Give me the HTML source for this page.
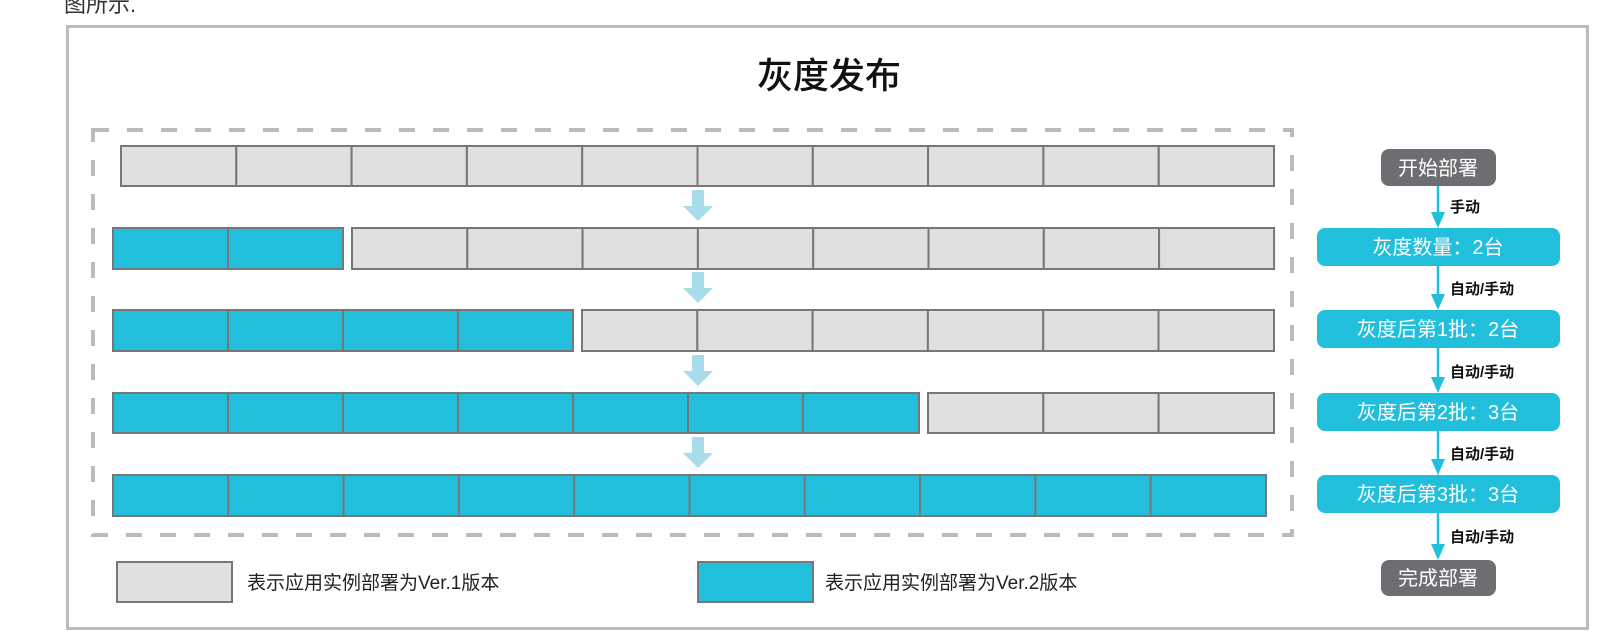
<!DOCTYPE html>
<html><head><meta charset="utf-8"><style>
html,body{margin:0;padding:0;background:#fff;}
svg{display:block;font-family:"Liberation Sans","Noto Sans CJK SC",sans-serif;}
</style></head><body>
<svg width="1612" height="644" viewBox="0 0 1612 644" xmlns="http://www.w3.org/2000/svg">
<text x="64" y="12" font-size="22" fill="#333">图所示.</text>
<rect x="67.5" y="26.5" width="1520" height="602" fill="#fff" stroke="#bbb" stroke-width="3"/>
<text x="829" y="88" font-size="36" font-weight="500" text-anchor="middle" fill="#111">灰度发布</text>
<rect x="93" y="130" width="1199" height="405" fill="none" stroke="#bbb" stroke-width="4" stroke-dasharray="16,18"/>
<g stroke="#777" stroke-width="2">
<g fill="#e0e0e0">
<rect x="121" y="146" width="115.3" height="40"/><rect x="236.3" y="146" width="115.3" height="40"/><rect x="351.6" y="146" width="115.3" height="40"/><rect x="466.9" y="146" width="115.3" height="40"/><rect x="582.2" y="146" width="115.3" height="40"/><rect x="697.5" y="146" width="115.3" height="40"/><rect x="812.8" y="146" width="115.3" height="40"/><rect x="928.1" y="146" width="115.3" height="40"/><rect x="1043.4" y="146" width="115.3" height="40"/><rect x="1158.7" y="146" width="115.3" height="40"/>
</g>
<g fill="#22bfdd"><rect x="113" y="228" width="115" height="41"/><rect x="228" y="228" width="115" height="41"/></g>
<g fill="#e0e0e0"><rect x="352" y="228" width="115.3" height="41"/><rect x="467.3" y="228" width="115.3" height="41"/><rect x="582.6" y="228" width="115.3" height="41"/><rect x="697.9" y="228" width="115.3" height="41"/><rect x="813.2" y="228" width="115.3" height="41"/><rect x="928.5" y="228" width="115.3" height="41"/><rect x="1043.8" y="228" width="115.3" height="41"/><rect x="1159.1" y="228" width="115" height="41"/></g>
<g fill="#22bfdd"><rect x="113" y="310" width="115" height="41"/><rect x="228" y="310" width="115" height="41"/><rect x="343" y="310" width="115" height="41"/><rect x="458" y="310" width="115" height="41"/></g>
<g fill="#e0e0e0"><rect x="582" y="310" width="115.3" height="41"/><rect x="697.3" y="310" width="115.3" height="41"/><rect x="812.6" y="310" width="115.3" height="41"/><rect x="927.9" y="310" width="115.3" height="41"/><rect x="1043.2" y="310" width="115.3" height="41"/><rect x="1158.5" y="310" width="115.5" height="41"/></g>
<g fill="#22bfdd"><rect x="113" y="393" width="115" height="40"/><rect x="228" y="393" width="115" height="40"/><rect x="343" y="393" width="115" height="40"/><rect x="458" y="393" width="115" height="40"/><rect x="573" y="393" width="115" height="40"/><rect x="688" y="393" width="115" height="40"/><rect x="803" y="393" width="116" height="40"/></g>
<g fill="#e0e0e0"><rect x="928" y="393" width="115.3" height="40"/><rect x="1043.3" y="393" width="115.3" height="40"/><rect x="1158.6" y="393" width="115.4" height="40"/></g>
<g fill="#22bfdd"><rect x="113" y="475" width="115.3" height="41"/><rect x="228.3" y="475" width="115.3" height="41"/><rect x="343.6" y="475" width="115.3" height="41"/><rect x="458.9" y="475" width="115.3" height="41"/><rect x="574.2" y="475" width="115.3" height="41"/><rect x="689.5" y="475" width="115.3" height="41"/><rect x="804.8" y="475" width="115.3" height="41"/><rect x="920.1" y="475" width="115.3" height="41"/><rect x="1035.4" y="475" width="115.3" height="41"/><rect x="1150.7" y="475" width="115.3" height="41"/></g>
<rect x="117" y="562" width="115" height="40" fill="#e0e0e0"/>
<rect x="698" y="562" width="115" height="40" fill="#22bfdd"/>
</g>
<g fill="#a8dcea">
<path d="M692 190h12v16h9l-15 15l-15-15h9z"/>
<path d="M692 272h12v16h9l-15 15l-15-15h9z"/>
<path d="M692 355h12v16h9l-15 15l-15-15h9z"/>
<path d="M692 437h12v16h9l-15 15l-15-15h9z"/>
</g>
<g font-size="19" fill="#222">
<text x="247" y="589">表示应用实例部署为Ver.1版本</text>
<text x="825" y="589">表示应用实例部署为Ver.2版本</text>
</g>
<rect x="1381" y="149" width="115" height="37" rx="8" fill="#6d6e71"/>
<rect x="1317" y="228" width="243" height="38" rx="8" fill="#22bfdd"/>
<rect x="1317" y="310" width="243" height="38" rx="8" fill="#22bfdd"/>
<rect x="1317" y="393" width="243" height="38" rx="8" fill="#22bfdd"/>
<rect x="1317" y="475" width="243" height="38" rx="8" fill="#22bfdd"/>
<rect x="1381" y="560" width="115" height="36" rx="8" fill="#6d6e71"/>
<g stroke="#22bfdd" stroke-width="2.5"><line x1="1438" y1="186" x2="1438" y2="216"/><line x1="1438" y1="266" x2="1438" y2="298"/><line x1="1438" y1="348" x2="1438" y2="381"/><line x1="1438" y1="431" x2="1438" y2="463"/><line x1="1438" y1="513" x2="1438" y2="548"/></g>
<g fill="#22bfdd"><path d="M1431 212h14l-7 16z"/><path d="M1431 294h14l-7 16z"/><path d="M1431 377h14l-7 16z"/><path d="M1431 459h14l-7 16z"/><path d="M1431 544h14l-7 16z"/></g>
<g font-size="20" fill="#fff" text-anchor="middle">
<text x="1438" y="175">开始部署</text>
<text x="1438" y="254">灰度数量：2台</text>
<text x="1438" y="336">灰度后第1批：2台</text>
<text x="1438" y="419">灰度后第2批：3台</text>
<text x="1438" y="501">灰度后第3批：3台</text>
<text x="1438" y="585">完成部署</text>
</g>
<g font-size="15" font-weight="bold" fill="#111">
<text x="1450" y="212">手动</text>
<text x="1450" y="294">自动/手动</text>
<text x="1450" y="377">自动/手动</text>
<text x="1450" y="459">自动/手动</text>
<text x="1450" y="542">自动/手动</text>
</g>
</svg>
</body></html>
